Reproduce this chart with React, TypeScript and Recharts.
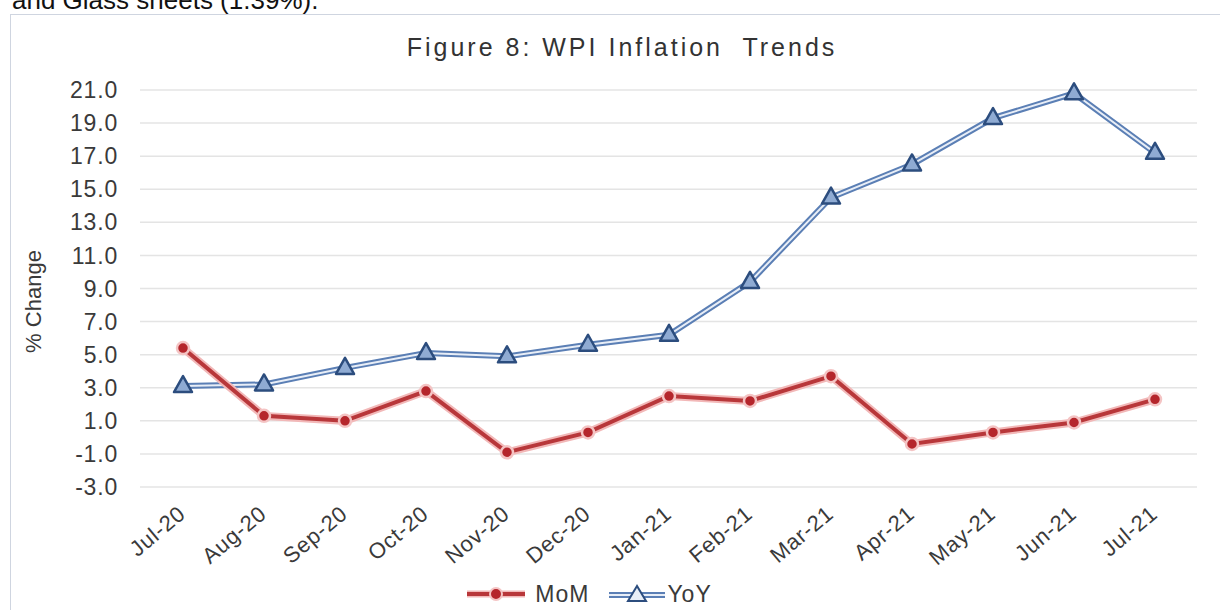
import React from 'react';
import { LineChart, Line, XAxis, YAxis, CartesianGrid, Legend } from 'recharts';

const months = ['Jul-20','Aug-20','Sep-20','Oct-20','Nov-20','Dec-20','Jan-21','Feb-21','Mar-21','Apr-21','May-21','Jun-21','Jul-21'];
const momValues = [5.4, 1.3, 1.0, 2.8, -0.9, 0.3, 2.5, 2.2, 3.7, -0.4, 0.3, 0.9, 2.3];
const yoyValues = [3.1, 3.2, 4.2, 5.1, 4.9, 5.6, 6.2, 9.4, 14.5, 16.5, 19.3, 20.8, 17.2];
const yTicks = [-3, -1, 1, 3, 5, 7, 9, 11, 13, 15, 17, 19, 21];

const data = months.map((m, i) => ({ month: m, mom: momValues[i], yoy: yoyValues[i] }));

const FONT = '"Liberation Sans", Arial, sans-serif';
const TEXT = '#3a3a3a';

const Triangle = (props: any) => {
  const { cx, cy } = props;
  if (cx == null || cy == null) return null;
  return (
    <path
      d={`M${cx},${cy - 10} L${cx - 9},${cy + 6} L${cx + 9},${cy + 6} Z`}
      fill="#8fabd3"
      stroke="#2c4d7e"
      strokeWidth={2.5}
      strokeLinejoin="round"
    />
  );
};

const RedDot = (props: any) => {
  const { cx, cy } = props;
  if (cx == null || cy == null) return null;
  return <circle cx={cx} cy={cy} r={6} fill="#b5262c" stroke="#f4c4c4" strokeWidth={2.5} />;
};

const XTick = (props: any) => {
  const { x, y, payload } = props;
  return (
    <g transform={`translate(${x + 4},${y + 21})`}>
      <text
        x={0}
        y={0}
        textAnchor="end"
        transform="rotate(-40)"
        fill={TEXT}
        fontSize={22}
        fontFamily={FONT}
        letterSpacing={0.8}
      >
        {payload.value}
      </text>
    </g>
  );
};

const LegendContent = () => (
  <div
    style={{
      display: 'flex',
      justifyContent: 'center',
      alignItems: 'center',
      height: 40,
      marginTop: 6,
      marginLeft: -28,
      fontFamily: FONT,
      fontSize: 23,
      letterSpacing: 1,
      color: TEXT,
    }}
  >
    <svg width={58} height={20} style={{ marginRight: 10 }}>
      <line x1={0} y1={10} x2={58} y2={10} stroke="#f2b8b8" strokeWidth={7} />
      <line x1={0} y1={10} x2={58} y2={10} stroke="#b8373a" strokeWidth={4} />
      <circle cx={29} cy={10} r={6} fill="#b5262c" stroke="#f4c4c4" strokeWidth={2} />
    </svg>
    <span style={{ marginRight: 20 }}>MoM</span>
    <svg width={56} height={22} style={{ marginRight: 2 }}>
      <line x1={0} y1={12} x2={56} y2={12} stroke="#5b7fb5" strokeWidth={6} />
      <line x1={0} y1={12} x2={56} y2={12} stroke="#e8eef7" strokeWidth={2} />
      <path d="M28,3 L19,18 L37,18 Z" fill="#e8eef7" stroke="#2c4d7e" strokeWidth={2} />
    </svg>
    <span>YoY</span>
  </div>
);

const YLabel = (props: any) => {
  const vb = props.viewBox || {};
  const cx = vb.x + 23;
  const cy = vb.y + vb.height / 2 + 13;
  return (
    <text
      transform={`translate(${cx},${cy}) rotate(-90)`}
      textAnchor="middle"
      dominantBaseline="central"
      fill={TEXT}
      fontSize={22}
      fontFamily={FONT}
    >
      % Change
    </text>
  );
};

export default function App() {
  return (
    <div
      style={{
        position: 'fixed',
        left: 0,
        top: 0,
        width: 1220,
        height: 610,
        background: '#ffffff',
        overflow: 'hidden',
        fontFamily: FONT,
      }}
    >
      <div
        style={{
          position: 'absolute',
          left: 12,
          top: -13,
          fontSize: 26,
          lineHeight: '26px',
          color: '#111',
          whiteSpace: 'nowrap',
        }}
      >
        and Glass sheets (1.39%).
      </div>
      <div
        style={{
          position: 'absolute',
          left: 10,
          top: 14,
          width: 1230,
          height: 620,
          border: '1.5px solid #cfd5e0',
          boxSizing: 'border-box',
        }}
      />
      <div
        style={{
          position: 'absolute',
          left: 0,
          top: 33,
          width: 1244,
          textAlign: 'center',
          fontSize: 25,
          letterSpacing: 3,
          color: '#333',
          whiteSpace: 'pre',
        }}
      >
        Figure 8: WPI Inflation  Trends
      </div>
      <div style={{ position: 'absolute', left: 0, top: 0 }}>
        <LineChart
          width={1220}
          height={610}
          data={data}
          margin={{ top: 90, right: 23, left: 10, bottom: 2 }}
        >
          <CartesianGrid vertical={false} stroke="#e4e4e4" strokeWidth={1.5} />
          <XAxis
            dataKey="month"
            axisLine={false}
            tickLine={false}
            interval={0}
            height={81}
            padding={{ left: 43, right: 42 }}
            tick={<XTick />}
          />
          <YAxis
            width={130}
            domain={[-3, 21]}
            ticks={yTicks}
            axisLine={false}
            tickLine={false}
            tickMargin={16}
            tickFormatter={(v: number) => v.toFixed(1)}
            tick={{ fill: TEXT, fontSize: 23, fontFamily: FONT, letterSpacing: 0.8 }}
            label={<YLabel />}
          />
          <Legend verticalAlign="bottom" height={40} content={<LegendContent />} />
          <Line
            dataKey="yoy"
            stroke="#5b7fb5"
            strokeWidth={6}
            dot={false}
            activeDot={false}
            isAnimationActive={false}
            legendType="none"
          />
          <Line
            dataKey="yoy"
            stroke="#e8eef7"
            strokeWidth={2}
            dot={<Triangle />}
            activeDot={false}
            isAnimationActive={false}
            legendType="none"
          />
          <Line
            dataKey="mom"
            stroke="#f2b8b8"
            strokeWidth={8}
            dot={false}
            activeDot={false}
            isAnimationActive={false}
            legendType="none"
          />
          <Line
            dataKey="mom"
            stroke="#b8373a"
            strokeWidth={4}
            dot={<RedDot />}
            activeDot={false}
            isAnimationActive={false}
            legendType="none"
          />
        </LineChart>
      </div>
    </div>
  );
}
